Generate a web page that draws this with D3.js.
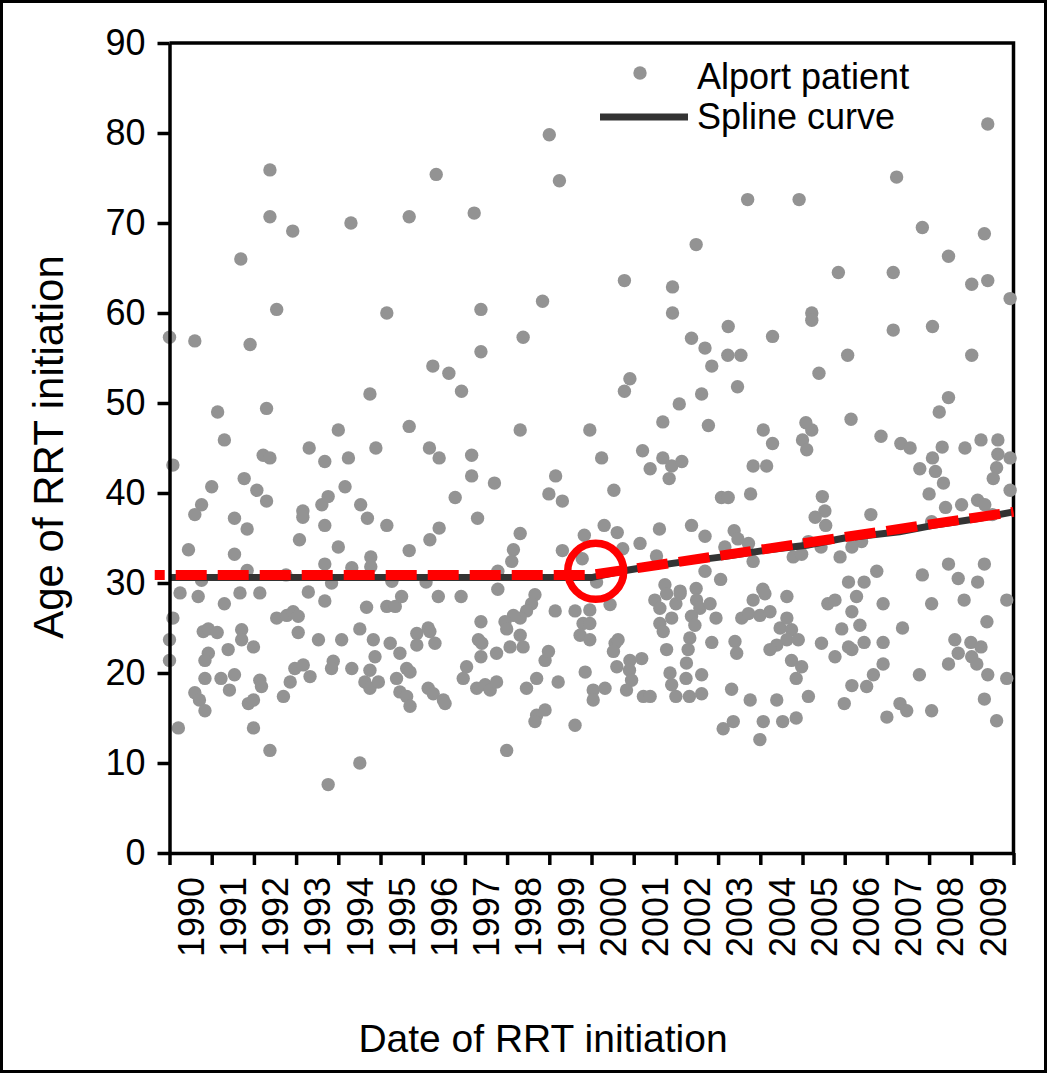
<!DOCTYPE html>
<html>
<head>
<meta charset="utf-8">
<script src="https://cdn.jsdelivr.net/npm/d3@7"></script>
<style>
  body { margin: 0; background: #fff; }
  svg text { font-family: "Liberation Sans", Arial, sans-serif; fill: #000; }
</style>
</head>
<body>
<svg width="1047" height="1073"></svg>
<script>
// [date of RRT initiation (decimal year), age at initiation]
var patients = [
  [1990.25,28.9],[1990.68,28.5],[1991.30,27.7],[1990.08,26.1],[1990.00,23.7],[1990.00,21.4],[1990.80,24.6],[1990.92,24.9],
  [1991.13,24.5],[1990.92,22.2],[1990.84,21.4],[1991.39,22.6],[1990.84,19.4],[1991.22,19.4],[1991.54,19.8],[1990.60,17.8],
  [1990.71,17.0],[1990.84,15.8],[1991.42,18.1],[1990.21,13.9],[1991.71,24.8],[1991.71,23.7],[1991.99,22.9],[1992.14,19.2],
  [1992.18,18.5],[1991.87,16.6],[1991.99,17.0],[1991.99,13.9],[1992.38,11.4],[1992.54,26.1],[1992.78,26.4],[1992.93,26.8],
  [1993.05,26.3],[1993.05,24.5],[1993.53,23.7],[1994.08,23.7],[1992.97,20.5],[1993.17,20.9],[1993.33,19.6],[1992.86,19.0],
  [1992.70,17.4],[1993.88,21.3],[1993.84,20.5],[1994.32,20.5],[1994.51,24.9],[1994.67,27.3],[1994.83,23.7],[1994.87,21.8],
  [1994.75,20.3],[1994.63,19.0],[1994.75,18.3],[1993.68,28.0],[1993.29,29.0],[1993.76,7.6],[1994.51,10.0],[1991.67,28.9],
  [1992.14,28.9],
  [1990.00,57.3],[1990.60,56.9],[1991.91,56.5],[1994.75,51.0],[1991.14,49.0],[1992.30,49.4],[1994.00,47.0],[1991.30,45.9],
  [1994.89,45.0],[1993.31,45.0],[1992.22,44.2],[1992.38,43.9],[1990.08,43.1],[1993.68,43.5],[1994.24,43.9],[1991.77,41.6],
  [1991.00,40.7],[1992.07,40.3],[1994.16,40.7],[1992.30,39.1],[1990.76,38.7],[1990.60,37.6],[1991.54,37.2],[1991.84,36.0],
  [1993.16,38.0],[1993.16,37.3],[1993.61,38.7],[1993.76,39.6],[1994.53,38.7],[1994.69,37.2],[1993.68,36.4],[1993.08,34.8],
  [1994.00,34.0],[1990.45,33.7],[1991.54,33.2],[1994.77,32.9],[1994.77,31.8],[1991.84,31.4],[1993.68,32.1],[1994.32,31.7],
  [1990.76,30.3],[1992.76,30.9],[1993.84,30.0],
  [1992.38,75.9],[1992.38,70.7],[1992.92,69.1],[1994.30,70.0],[1991.69,66.0],[1992.54,60.4],
  [1999.00,79.8],[1999.24,74.7],[1996.32,75.4],[1995.68,70.7],[1997.22,71.1],[1995.15,60.0],[1997.38,60.4],[1998.84,61.3],
  [2003.70,72.6],[2004.92,72.6],[2002.48,67.6],[2000.78,63.6],[2001.92,62.9],[2001.92,60.0],
  [2009.39,81.0],[2007.23,75.1],[2007.84,69.5],[2009.31,68.8],[2008.46,66.3],[2005.85,64.5],[2007.15,64.5],[2009.01,63.2],
  [2009.39,63.6],[2009.92,61.6],[2005.22,60.0],[2005.22,59.2],
  [1998.38,57.3],[1997.38,55.7],[1996.24,54.1],[1996.62,53.3],[1996.92,51.3],[1995.68,47.4],[1998.31,47.0],[1999.96,47.0],
  [1996.16,45.0],[1996.39,43.9],[1997.16,44.2],[1997.16,41.9],[1997.70,41.1],[1999.15,41.9],[1998.99,39.9],[1999.31,39.1],
  [1996.77,39.5],[1997.30,37.2],[1995.15,36.4],[1996.39,36.1],[1996.17,34.8],[1995.68,33.6],[1998.31,35.5],[1998.15,33.7],
  [1998.11,32.4],[1999.31,33.6],[1999.83,35.3],[1999.78,32.7],[1995.27,30.2],[1996.08,30.1],[1997.78,31.3],[1997.78,29.3],
  [1995.15,27.4],[1995.35,27.4],[1995.50,28.5],[1996.37,28.5],[1996.91,28.5],[1998.66,28.7],[1998.58,27.7],[1998.46,26.9],
  [1998.31,26.1],[1998.15,26.4],[1997.95,25.7],[1997.99,24.9],[1998.31,24.2],[1998.07,22.9],[1998.38,22.9],[1999.14,26.9],
  [1999.61,26.9],[1999.80,25.5],[1999.73,24.2],[1999.96,23.7],[1995.23,23.3],[1995.46,22.2],[1995.86,24.4],[1996.13,25.0],
  [1996.17,24.6],[1995.86,23.1],[1996.29,23.3],[1995.62,20.5],[1995.70,20.1],[1995.38,19.4],[1994.95,19.0],[1995.46,17.9],
  [1995.62,17.4],[1995.70,16.3],[1996.13,18.3],[1996.25,17.7],[1996.49,17.0],[1996.53,16.6],[1997.04,20.7],[1996.96,19.4],
  [1997.38,25.7],[1997.32,23.7],[1997.40,23.3],[1997.38,21.8],[1997.75,22.2],[1997.28,18.3],[1997.48,18.7],[1997.60,18.1],
  [1997.75,19.0],[1998.46,18.3],[1998.70,19.4],[1998.90,21.4],[1998.98,22.4],[1999.21,19.0],[1999.85,20.1],[2000.04,18.1],
  [2000.04,17.0],[1998.70,15.3],[1998.66,14.6],[1998.90,15.9],[1999.61,14.2],[1997.99,11.4],
  [2003.24,58.5],[2004.29,57.4],[2002.37,57.2],[2002.69,56.1],[2003.23,55.3],[2003.54,55.3],[2002.85,54.1],[2000.91,52.7],
  [2000.78,51.3],[2003.46,51.8],[2002.61,51.0],[2002.08,49.9],[2001.69,47.9],[2002.77,47.5],[2005.08,47.8],[2004.07,47.0],
  [2004.29,45.5],[2005.00,45.9],[2005.10,44.8],[2000.24,43.9],[2001.21,44.7],[2001.39,42.7],[2001.69,43.9],[2001.90,43.0],
  [2002.14,43.5],[2001.84,41.6],[2003.83,43.0],[2004.15,43.0],[2000.53,40.3],[2003.08,39.5],[2003.24,39.5],[2003.77,39.9],
  [2000.30,36.4],[2000.61,35.6],[2001.61,36.0],[2002.37,36.4],[2002.69,35.2],[2001.15,34.4],[2000.74,33.8],[2001.54,33.0],
  [2003.16,34.0],[2003.38,35.8],[2003.47,34.9],[2003.72,34.4],[2003.83,32.4],[2004.78,32.9],[2004.98,33.2],[2002.69,31.3],
  [2003.06,30.4],[2001.74,29.8],[2002.10,29.1],[2002.48,29.4],[2004.06,29.3],[2000.12,30.1],[2005.14,34.6],
  [2007.15,58.1],[2008.08,58.5],[2006.07,55.3],[2009.01,55.3],[2005.39,53.3],[2008.46,50.6],[2008.24,49.0],[2006.15,48.2],
  [2005.22,47.0],[2006.86,46.3],[2007.33,45.5],[2007.55,45.0],[2008.31,45.1],[2008.08,43.9],[2008.85,45.0],[2009.23,45.9],
  [2009.63,45.9],[2009.63,44.3],[2009.92,43.9],[2009.60,42.8],[2009.52,41.6],[2007.78,42.7],[2008.15,42.4],[2008.34,41.1],
  [2009.92,40.3],[2008.00,39.9],[2005.47,39.6],[2005.53,38.0],[2005.30,37.3],[2005.55,36.4],[2006.62,37.6],[2008.39,38.4],
  [2008.77,38.7],[2009.15,39.2],[2009.32,38.7],[2008.06,36.8],[2009.50,37.6],[2006.40,34.6],[2006.17,34.0],[2005.89,32.9],
  [2005.44,34.0],[2006.76,31.3],[2006.09,30.1],[2006.46,30.1],[2007.84,30.9],[2008.46,32.1],[2009.31,32.1],[2008.69,30.5],
  [2009.15,30.1],
  [2001.50,28.1],[2001.62,27.2],[2001.78,28.8],[2002.00,27.7],[2002.10,28.8],[2002.49,28.1],[2002.57,27.2],[2002.81,27.7],
  [2000.44,27.6],[1999.96,27.0],[1999.96,25.5],[2000.56,23.3],[2000.63,23.7],[2000.52,22.4],[2000.60,20.7],[2000.32,18.3],
  [2000.91,21.4],[2000.90,20.3],[2000.95,19.2],[2000.83,18.1],[2001.19,21.6],[2001.23,17.4],[2001.39,17.4],[2001.62,25.5],
  [2001.70,24.6],[2001.90,26.1],[2001.78,22.6],[2001.86,20.0],[2001.90,18.7],[2002.00,17.4],[2002.37,26.3],[2002.45,25.3],
  [2002.33,23.9],[2002.29,22.6],[2002.25,21.1],[2002.24,19.4],[2002.32,17.4],[2002.61,19.8],[2002.61,17.7],[2002.95,26.1],
  [2002.85,23.4],[2003.40,23.5],[2003.44,22.2],[2003.32,18.2],[2003.12,13.8],[2003.36,14.6],[2003.56,26.1],[2003.72,26.6],
  [2003.99,26.4],[2004.23,26.8],[2003.83,28.1],[2004.11,28.8],[2004.63,28.5],[2004.47,25.0],[2004.63,26.1],[2004.74,24.8],
  [2004.63,23.7],[2004.39,23.1],[2004.23,22.6],[2004.90,23.7],[2004.74,21.4],[2004.98,20.7],[2004.85,19.4],[2003.76,17.0],
  [2004.39,17.0],[2005.14,17.4],[2004.07,14.6],[2004.53,14.6],[2004.85,15.0],[2003.99,12.6],
  [2005.60,27.7],[2005.77,28.1],[2006.28,28.5],[2006.17,26.8],[2005.93,24.9],[2006.36,25.3],[2006.91,27.7],[2008.06,27.7],
  [2008.83,28.1],[2009.84,28.1],[2009.37,25.7],[2007.37,25.0],[2005.45,23.3],[2005.77,21.8],[2006.09,22.9],[2006.17,22.6],
  [2006.46,23.4],[2006.91,23.4],[2006.91,21.0],[2006.68,19.8],[2006.52,18.5],[2006.17,18.6],[2005.99,16.6],[2007.00,15.1],
  [2007.31,16.6],[2007.47,15.8],[2008.06,15.8],[2007.77,19.8],[2008.61,23.7],[2008.69,22.2],[2008.46,21.0],[2008.99,23.4],
  [2009.23,22.9],[2009.01,21.8],[2009.13,21.0],[2009.39,19.8],[2009.84,19.4],[2009.31,17.1],[2009.60,14.7]
];

// spline curve knots
var splineYears = [1990, 2000, 2000.7, 2001.2, 2002.25, 2003.1, 2004.2, 2005.1, 2006, 2007.3, 2008.1, 2009.2, 2010];
var splineAges  = [30.6, 30.6, 31.3, 31.7, 32.4, 32.9, 33.7, 34.2, 35.0, 35.7, 36.4, 37.2, 37.9];

// red dashed trend (flat, then rising after 2000)
var trendYears = [1989.65, 2000, 2010];
var trendAges  = [30.9, 30.9, 37.9];

var breakPoint = [2000.1, 31.3];

var yTicks = d3.range(0, 91, 10);
var yearTicks = d3.range(1990, 2011);
var yearLabels = d3.range(1990, 2010);

var svg = d3.select("svg");

var x = d3.scaleLinear().domain([1990, 2010]).range([169.5, 1013.5]);
var y = d3.scaleLinear().domain([0, 90]).range([853, 43]);

// outer frame
svg.append("rect")
    .attr("x", 1.5).attr("y", 1.5)
    .attr("width", 1044).attr("height", 1070)
    .attr("fill", "none").attr("stroke", "#000").attr("stroke-width", 3);

// plot frame (top and right)
svg.append("path")
    .attr("d", "M" + x(1990) + "," + y(90) + "H" + x(2010) + "V" + y(0))
    .attr("fill", "none").attr("stroke", "#000").attr("stroke-width", 3.5);

// points
svg.append("g")
    .selectAll("circle")
    .data(patients)
    .enter().append("circle")
    .attr("cx", function(d) { return x(d[0]); })
    .attr("cy", function(d) { return y(d[1]); })
    .attr("r", 6.7)
    .attr("fill", "#939393");

// spline curve
var splineData = splineYears.map(function(yr, i) { return [yr, splineAges[i]]; });
var line = d3.line()
    .x(function(d) { return x(d[0]); })
    .y(function(d) { return y(d[1]); });

svg.append("path")
    .datum(splineData)
    .attr("d", line)
    .attr("fill", "none")
    .attr("stroke", "#333")
    .attr("stroke-width", 7);

// red dashed line
var trendData = trendYears.map(function(yr, i) { return [yr, trendAges[i]]; });
svg.append("path")
    .datum(trendData)
    .attr("d", line)
    .attr("fill", "none")
    .attr("stroke", "#ff0000")
    .attr("stroke-width", 10)
    .attr("stroke-dasharray", "31 11")
    .attr("stroke-dashoffset", 21);

// red circle at the break point
svg.append("circle")
    .attr("cx", x(breakPoint[0]))
    .attr("cy", y(breakPoint[1]))
    .attr("r", 28)
    .attr("fill", "none")
    .attr("stroke", "#ff0000")
    .attr("stroke-width", 7.5);

// y axis
var yAxis = svg.append("g")
    .attr("transform", "translate(" + x(1990) + ",0)")
    .call(d3.axisLeft(y).tickValues(yTicks).tickSize(12).tickSizeOuter(0).tickPadding(12));
yAxis.selectAll("line, path").attr("stroke", "#000").attr("stroke-width", 3.5);
yAxis.selectAll("text").style("font-size", "36px").style("font-family", "Liberation Sans, Arial, sans-serif");

// x axis ticks
var xAxis = svg.append("g")
    .attr("transform", "translate(0," + y(0) + ")")
    .call(d3.axisBottom(x).tickValues(yearTicks).tickSize(12).tickSizeOuter(0).tickFormat(""));
xAxis.selectAll("line, path").attr("stroke", "#000").attr("stroke-width", 3.5);

// x labels centred on each year
var xLabels = svg.append("g")
    .attr("transform", "translate(0," + y(0) + ")")
    .call(d3.axisBottom(x).tickValues(yearLabels.map(function(d) { return d + 0.5; }))
        .tickSize(0).tickFormat(function(d) { return Math.floor(d); }));
xLabels.select(".domain").remove();
xLabels.selectAll("text")
    .attr("transform", "rotate(-90)")
    .attr("text-anchor", "end")
    .attr("x", -24).attr("y", 0).attr("dy", "0.35em")
    .style("font-size", "36px").style("font-family", "Liberation Sans, Arial, sans-serif");

// axis titles
svg.append("text")
    .attr("x", 543).attr("y", 1052)
    .attr("text-anchor", "middle")
    .style("font-size", "39px")
    .text("Date of RRT initiation");

svg.append("text")
    .attr("transform", "translate(63,447) rotate(-90)")
    .attr("text-anchor", "middle")
    .style("font-size", "42px")
    .text("Age of RRT initiation");

// legend
var legend = svg.append("g");
legend.append("circle")
    .attr("cx", 640).attr("cy", 73).attr("r", 6.7).attr("fill", "#939393");
legend.append("line")
    .attr("x1", 600).attr("x2", 688).attr("y1", 117).attr("y2", 117)
    .attr("stroke", "#333").attr("stroke-width", 7);
legend.append("text")
    .attr("x", 697).attr("y", 89)
    .style("font-size", "36px")
    .text("Alport patient");
legend.append("text")
    .attr("x", 697).attr("y", 129)
    .style("font-size", "36px")
    .text("Spline curve");
</script>
</body>
</html>
